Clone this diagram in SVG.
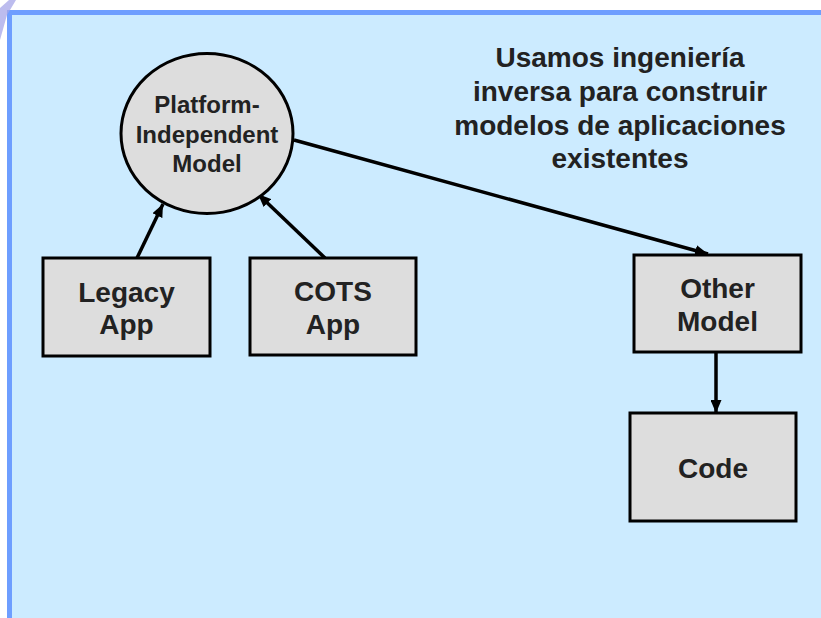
<svg xmlns="http://www.w3.org/2000/svg" width="821" height="618" viewBox="0 0 821 618">
<defs>
<style>
.node{fill:#DDDDDD;stroke:#000;stroke-width:3}
.t{font-family:"Liberation Sans",Arial,sans-serif;font-weight:bold;fill:#222;text-anchor:middle}
.t28{font-size:28px}
.t24{font-size:24px}
.conn{stroke:#000;stroke-width:3.5;fill:none;marker-end:url(#ah)}
.border{stroke:#6E9EFF;stroke-width:5;fill:none}
</style>
<marker id="ah" markerUnits="userSpaceOnUse" markerWidth="13" markerHeight="11" refX="13" refY="5.5" orient="auto">
<path d="M0,0 L13,5.5 L0,11 z" fill="#000"/>
</marker>
</defs>
<rect x="0" y="0" width="821" height="618" fill="#FFFFFF"/>
<rect x="9.5" y="12.5" width="811.5" height="605.5" fill="#CCEBFF"/>
<path class="border" d="M9.5,618 L9.5,12.5 L821,12.5"/>
<polygon points="9,0 16,0 7,15 0,40 0,8" fill="#A6A6E8" opacity="0.75"/>

<g id="edges">
<line class="conn" x1="137" y1="258" x2="163" y2="204"/>
<line class="conn" x1="325" y1="258" x2="258" y2="194"/>
<line class="conn" x1="294" y1="140" x2="708" y2="254"/>
<line class="conn" x1="716" y1="352" x2="716" y2="413"/>
</g>

<g id="pim">
<ellipse class="node" cx="207" cy="133.5" rx="86" ry="80"/>
<text class="t t24" x="207" y="113">Platform-</text>
<text class="t t24" x="207" y="143">Independent</text>
<text class="t t24" x="207" y="172">Model</text>
</g>

<g id="legacy">
<rect class="node" x="43" y="258" width="167" height="98"/>
<text class="t t28" x="126.5" y="302">Legacy</text>
<text class="t t28" x="126.5" y="334">App</text>
</g>

<g id="cots">
<rect class="node" x="250" y="258" width="166" height="97"/>
<text class="t t28" x="333" y="301">COTS</text>
<text class="t t28" x="333" y="334">App</text>
</g>

<g id="other">
<rect class="node" x="634" y="255" width="167" height="97"/>
<text class="t t28" x="717.5" y="298">Other</text>
<text class="t t28" x="717.5" y="331">Model</text>
</g>

<g id="code">
<rect class="node" x="630" y="413" width="166" height="108"/>
<text class="t t28" x="713" y="478">Code</text>
</g>

<g id="note">
<text class="t t28" x="620" y="67">Usamos ingeniería</text>
<text class="t t28" x="620" y="101">inversa para construir</text>
<text class="t t28" x="620" y="135">modelos de aplicaciones</text>
<text class="t t28" x="620" y="168">existentes</text>
</g>
</svg>
